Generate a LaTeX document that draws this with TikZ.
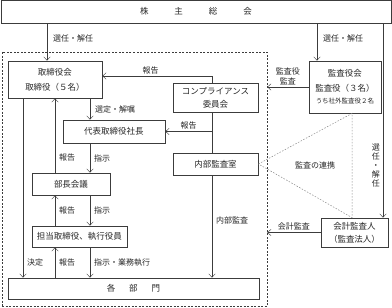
\documentclass[tikz,border=0pt]{standalone}
\usepackage{fontspec}
\setmainfont{Noto Sans CJK JP}
\usetikzlibrary{arrows.meta,positioning}
\definecolor{lineK}{HTML}{3C3C3C}
\definecolor{linkG}{HTML}{8A8A8A}

\begin{document}
\begin{tikzpicture}[x=1pt,y=-1pt,box/.style={draw=lineK,line width=.8pt,align=center,inner sep=0pt,text=black!85},lbl/.style={font=\fontsize{8}{9.5}\selectfont,text=black!85,inner sep=2pt},link/.style={draw=linkG,line width=.5pt,dash pattern=on 1.5pt off 1.5pt},>={Straight Barb[length=3.5pt,width=6.5pt]},font=\fontsize{8.5}{10}\selectfont]
\useasboundingbox (0,0) rectangle (392,308);
% x positions of the vertical connectors
\coordinate (xKettei) at (23,0);
\coordinate (xSennin) at (47,0);
\coordinate (xHoukoku) at (55,0);
\coordinate (xShiji) at (90,0);
\coordinate (xComp) at (212,0);
\coordinate (xKansa) at (317,0);
\coordinate (xRenkei) at (352,0);
\coordinate (xKaikei) at (383,0);
\coordinate (yTop) at (0,76);
\node[box,minimum width=390pt,minimum height=23pt] (soukai) at (196,11.5) {株\hspace{26pt}主\hspace{26pt}総\hspace{26pt}会};
\node[draw=lineK,line width=.6pt,dash pattern=on 2pt off 1.5pt,minimum width=265pt,minimum height=254pt,inner sep=0pt] (frame) at (134.5,179) {};
\node[box,minimum width=94pt,minimum height=37pt] (tor) at (55,79.5) {取締役会\\[5pt]取締役（５名）};
\node[box,minimum width=102pt,minimum height=23pt] (dai) at (114,131.5) {代表取締役社長};
\node[box,minimum width=78pt,minimum height=22pt] (bucho) at (71,184) {部長会議};
\node[box,minimum width=95pt,minimum height=21pt] (tanto) at (79.5,236.5) {担当取締役、執行役員};
\node[box,minimum width=251pt,minimum height=21pt] (kakubu) at (133.5,288.5) {各\hspace{14pt}部\hspace{14pt}門};
\node[box,minimum width=85pt,minimum height=29pt] (comp) at (215.5,97.5) {コンプライアンス\\[3pt]委員会};
\node[box,minimum width=85pt,minimum height=22pt] (naibu) at (215.5,164) {内部監査室};
\node[box,minimum width=72pt,minimum height=52pt] (kansa) at (345,87) {監査役会\\[5pt]監査役（３名）\\[2pt]{\fontsize{6.5}{8}\selectfont うち社外監査役２名}};
\node[box,minimum width=67pt,minimum height=29pt] (kaikei) at (354.5,232.5) {会計監査人\\[3pt]（監査法人）};
% shareholders
\draw[lineK,->] (soukai.south -| xSennin) -- (tor.north -| xSennin) node[lbl,pos=.4,right=4pt]{選任・解任};
\draw[lineK,->] (soukai.south -| xKansa) -- (kansa.north -| xKansa) node[lbl,pos=.4,right=4pt]{選任・解任};
\draw[lineK,->] (soukai.south -| xKaikei) -- (kaikei.north -| xKaikei) node[lbl,pos=.73,left=1pt,align=center,font=\fontsize{8}{9}\selectfont]{選\\任\\・\\解\\任};
% board and executives
\draw[lineK,->] (tor.south -| xShiji) -- (dai.north -| xShiji) node[lbl,midway,right=3pt]{選定・解嘱};
\draw[lineK,->] (bucho.north -| xHoukoku) -- (tor.south -| xHoukoku) node[lbl,pos=.21,right=2pt]{報告};
\draw[lineK,->] (dai.south -| xShiji) -- (bucho.north -| xShiji) node[lbl,midway,right=2pt]{指示};
\draw[lineK,->] (tanto.north -| xHoukoku) -- (bucho.south -| xHoukoku) node[lbl,midway,right=2pt]{報告};
\draw[lineK,->] (bucho.south -| xShiji) -- (tanto.north -| xShiji) node[lbl,midway,right=2pt]{指示};
\draw[lineK,->] (kakubu.north -| xHoukoku) -- (tanto.south -| xHoukoku) node[lbl,midway,right=2pt]{報告};
\draw[lineK,->] (tanto.south -| xShiji) -- (kakubu.north -| xShiji) node[lbl,midway,right=2pt]{指示・業務執行};
\draw[lineK,->] (tor.south -| xKettei) -- (kakubu.north -| xKettei) node[lbl,pos=.917,right=2pt]{決定};
% compliance and internal audit
\draw[lineK,->] (comp.north -| xComp) |- (tor.east |- yTop) node[lbl,pos=.78,above]{報告};
\draw[lineK] (comp.south -| xComp) -- (naibu.north -| xComp);
\draw[lineK,->] (dai.east -| xComp) -- (dai.east) node[lbl,midway,above]{報告};
\draw[lineK,->] (naibu.south -| xComp) -- (kakubu.north -| xComp) node[lbl,pos=.44,right=2pt]{内部監査};
% auditors
\draw[lineK,->] (kansa.west) -- (frame.east |- kansa.west) node[lbl,midway,above,align=center]{監査役\\監査};
\draw[lineK,->] (kaikei.west) -- (frame.east |- kaikei.west) node[lbl,midway,above]{会計監査};
\draw[link] (naibu.east) -- (kansa.south -| xRenkei) -- (kaikei.north -| xRenkei) -- cycle;
\node[lbl] (renkei) at (315,165) {監査の連携};
\end{tikzpicture}
\end{document}
